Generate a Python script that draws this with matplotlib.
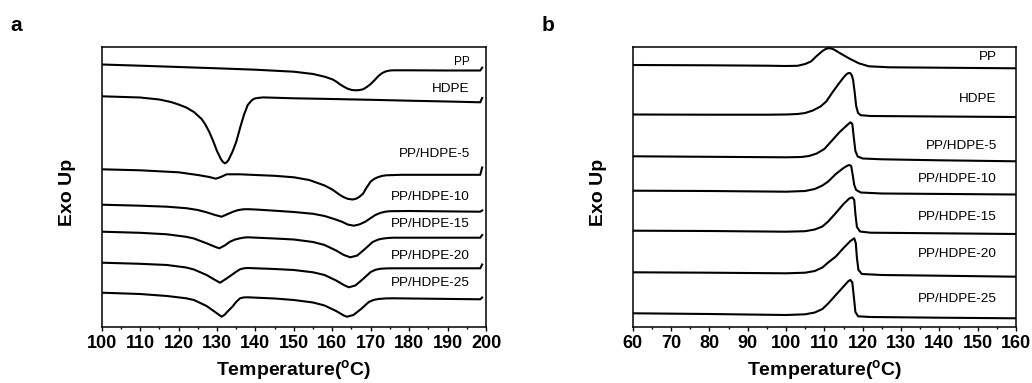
import matplotlib
matplotlib.use("Agg")
import matplotlib.pyplot as plt
from matplotlib.ticker import MultipleLocator

plt.rcParams["font.family"] = ["Liberation Sans", "DejaVu Sans"]
plt.rcParams["mathtext.default"] = "regular"

# ---- (a) heating scans, signal in arbitrary units (stacked) ----
heat_pp_t = [100, 110, 120, 130, 140, 150, 155, 158, 160, 161, 162, 163, 164, 165, 166, 167, 168, 169, 170, 171, 172, 173, 174, 175, 176, 180, 190, 198.5, 199]
heat_pp = [262.2, 261.0, 259.7, 258.4, 257.0, 255.0, 252.7, 250.0, 247.4, 245.2, 242.4, 240.0, 238.0, 236.8, 236.4, 236.6, 237.4, 239.7, 242.7, 246.5, 250.7, 253.7, 255.4, 256.2, 256.4, 256.4, 256.2, 256.2, 259.0]

heat_hdpe_t = [100, 110, 115, 118, 120, 122, 124, 126, 127, 128, 129, 130, 131, 131.5, 132, 132.5, 133, 134, 135, 136, 137, 138, 139, 139.5, 140, 141, 142, 150, 160, 170, 180, 190, 198.5, 199]
heat_hdpe = [230.4, 229.2, 227.2, 224.7, 222.2, 219.2, 214.7, 207.7, 202.0, 194.7, 185.7, 175.7, 167.7, 165.0, 163.4, 164.3, 166.7, 174.7, 184.7, 198.7, 211.7, 221.7, 226.2, 227.6, 228.4, 228.9, 229.3, 228.4, 227.7, 226.9, 226.0, 225.2, 224.4, 228.7]

heat_b5_t = [100, 110, 120, 125, 128, 129.7, 131, 132.5, 136, 140, 145, 150, 154, 158, 160, 162, 163, 164, 165.3, 166.2, 167, 168, 169, 170, 171, 172, 173, 174, 178, 198.5, 199]
heat_b5 = [157.4, 156.4, 154.4, 151.7, 149.7, 148.0, 149.7, 152.4, 152.4, 151.7, 150.9, 149.4, 146.7, 141.2, 137.2, 131.7, 129.5, 127.9, 127.2, 128.0, 129.7, 133.0, 139.5, 145.2, 148.0, 149.7, 150.8, 151.4, 151.9, 151.9, 159.2]

heat_b10_t = [100, 110, 117, 122, 125, 127.3, 129.5, 131.2, 132.5, 134.2, 135.5, 136.8, 138, 140, 145, 150, 155, 158, 160.5, 162.5, 164, 165.6, 167, 168.6, 171.2, 172.5, 173.8, 175, 180, 198.5, 199]
heat_b10 = [122.0, 121.0, 120.0, 118.5, 116.7, 114.4, 111.7, 110.0, 112.2, 115.0, 116.6, 117.4, 117.5, 117.2, 116.0, 114.7, 112.9, 110.7, 107.7, 105.0, 102.2, 101.0, 102.2, 105.0, 111.7, 113.8, 115.0, 115.5, 115.7, 115.0, 116.2]

heat_b15_t = [100, 110, 117, 122, 124, 127.3, 129.5, 130.6, 132, 133.4, 134.7, 136, 137, 138, 145, 150, 155, 158, 161, 163, 164.7, 166.5, 168.5, 170.5, 172, 173, 174.5, 176, 198.5, 199]
heat_b15 = [95.0, 93.9, 92.4, 89.9, 88.2, 83.4, 79.9, 78.4, 81.2, 85.0, 87.2, 88.4, 89.1, 89.4, 88.2, 87.2, 84.7, 81.7, 76.2, 71.7, 69.4, 71.2, 77.7, 84.7, 87.2, 88.0, 88.7, 89.0, 89.0, 91.7]

heat_b20_t = [100, 110, 117, 122, 124, 127.3, 129.5, 130.8, 132.3, 133.8, 135, 136, 137, 138, 145, 150, 155, 158, 161, 163, 164.3, 166, 168, 170, 171.3, 172.5, 174, 176, 198.5, 199]
heat_b20 = [64.0, 62.9, 61.7, 59.2, 57.2, 51.7, 46.7, 44.0, 47.7, 51.7, 55.0, 57.4, 58.4, 58.7, 57.7, 56.7, 54.4, 51.7, 46.2, 41.7, 39.4, 41.2, 47.7, 54.7, 57.0, 57.9, 58.3, 58.4, 58.4, 62.2]

heat_b25_t = [100, 110, 117, 122, 124, 127.3, 129.5, 130.3, 131.2, 132, 132.5, 134, 135, 136, 137, 138, 145, 150, 155, 158, 161, 163, 163.8, 165.5, 167.5, 169.5, 170.8, 172, 174, 176, 198.5, 199]
heat_b25 = [34.0, 32.7, 30.7, 28.4, 26.7, 20.7, 14.7, 12.5, 10.0, 12.0, 14.2, 20.0, 24.8, 28.4, 29.3, 29.4, 28.2, 26.7, 24.2, 21.2, 15.7, 11.2, 10.0, 11.7, 17.7, 24.7, 26.8, 27.7, 28.3, 28.4, 27.4, 29.2]

# ---- (b) cooling scans ----
cool_pp_t = [60, 80, 95, 100, 103, 105, 106.5, 108, 109.5, 110.3, 111, 111.8, 112.5, 114, 116.5, 119, 121.6, 127, 140, 160]
cool_pp = [261.7, 261.4, 261.0, 260.7, 260.9, 262.7, 265.2, 270.7, 275.7, 277.6, 278.5, 278.2, 277.2, 273.7, 268.2, 263.4, 260.4, 259.4, 259.0, 258.4]

cool_hdpe_t = [60, 80, 95, 100, 103, 105, 107, 109, 110.5, 112, 113.5, 115, 115.7, 116.3, 116.8, 117.2, 117.5, 117.9, 118.3, 118.8, 119.5, 122, 140, 160]
cool_hdpe = [212.2, 212.0, 212.0, 212.2, 212.7, 213.7, 216.2, 220.2, 225.2, 233.7, 241.7, 249.2, 252.2, 253.7, 253.5, 251.0, 246.7, 234.7, 220.7, 213.7, 211.5, 210.7, 210.2, 209.7]

cool_b5_t = [60, 80, 100, 104, 106, 108, 110, 112, 114, 115.5, 116.3, 116.8, 117.3, 117.7, 118.1, 118.7, 120, 125, 140, 160]
cool_b5 = [170.4, 169.9, 169.4, 169.7, 170.7, 173.2, 177.7, 186.2, 194.7, 200.0, 202.8, 204.4, 202.7, 188.7, 175.7, 170.2, 168.2, 167.4, 166.4, 165.4]

cool_b10_t = [60, 80, 100, 105, 107.5, 109.5, 111, 113, 115, 116, 116.5, 117, 117.4, 117.8, 118.3, 119.5, 125, 160]
cool_b10 = [136.0, 135.7, 135.0, 135.7, 137.7, 141.2, 145.2, 152.7, 158.7, 161.0, 161.7, 160.7, 151.7, 141.7, 136.7, 134.2, 133.2, 132.2]

cool_b15_t = [60, 80, 100, 105, 107.5, 109.5, 111, 113, 115, 116.5, 117.3, 117.8, 118.1, 118.5, 119.3, 122, 140, 160]
cool_b15 = [96.0, 95.7, 95.0, 95.5, 97.2, 100.2, 105.2, 113.7, 122.7, 128.2, 129.4, 126.7, 112.7, 99.7, 95.2, 94.0, 93.4, 92.7]

cool_b20_t = [60, 80, 100, 105, 107.5, 109.5, 111, 113, 115, 116.8, 117.8, 118.2, 118.5, 118.9, 119.8, 125, 140, 160]
cool_b20 = [54.4, 54.0, 53.4, 54.0, 55.7, 59.2, 64.2, 70.2, 78.7, 85.7, 88.4, 83.7, 68.7, 56.7, 52.7, 51.7, 51.0, 50.0]

cool_b25_t = [60, 80, 100, 105, 107.5, 109.5, 111, 113, 115, 116.3, 116.8, 117.3, 117.7, 118.1, 118.8, 122, 140, 160]
cool_b25 = [13.4, 12.7, 11.7, 12.4, 14.2, 17.7, 23.2, 31.7, 40.2, 45.7, 46.7, 44.2, 29.7, 14.7, 10.4, 9.7, 9.0, 8.4]

names = ["PP", "HDPE", "PP/HDPE-5", "PP/HDPE-10", "PP/HDPE-15", "PP/HDPE-20", "PP/HDPE-25"]

heat_curves = [(heat_pp_t, heat_pp), (heat_hdpe_t, heat_hdpe), (heat_b5_t, heat_b5), (heat_b10_t, heat_b10),
               (heat_b15_t, heat_b15), (heat_b20_t, heat_b20), (heat_b25_t, heat_b25)]
cool_curves = [(cool_pp_t, cool_pp), (cool_hdpe_t, cool_hdpe), (cool_b5_t, cool_b5), (cool_b10_t, cool_b10),
               (cool_b15_t, cool_b15), (cool_b20_t, cool_b20), (cool_b25_t, cool_b25)]

# label anchor heights (same units as the curves)
heat_label_y = [265, 237.7, 172.7, 129.4, 102.7, 70.7, 43.4]
cool_label_y = [270, 227.7, 181, 147.4, 110, 72.4, 27.7]

fig = plt.figure(figsize=(10.32, 3.83), dpi=100)
ax_a = fig.add_axes([101.7 / 1032, 56.3 / 383, 384.3 / 1032, 280 / 383])
ax_b = fig.add_axes([632.7 / 1032, 56.3 / 383, 383.3 / 1032, 279.4 / 383])


def style(ax, lo, hi, ytop):
    ax.set_xlim(lo, hi)
    ax.set_ylim(0, ytop)
    ax.xaxis.set_major_locator(MultipleLocator(10))
    ax.xaxis.set_minor_locator(MultipleLocator(5))
    ax.tick_params(axis="x", which="major", direction="out", length=3, width=1, pad=3, labelsize=13)
    ax.tick_params(axis="x", which="minor", direction="out", length=1.6, width=1)
    ax.tick_params(axis="y", left=False, labelleft=False)
    for lab in ax.get_xticklabels():
        lab.set_fontweight("bold")
    for sp in ax.spines.values():
        sp.set_linewidth(1.1)
    ax.set_xlabel("Temperature($^{o}$C)", fontsize=14, fontweight="bold", labelpad=4)
    ax.set_ylabel("Exo Up", fontsize=14, fontweight="bold")
    ax.yaxis.set_label_coords(-0.066, 0.48)


style(ax_a, 100, 200, 280)
style(ax_b, 60, 160, 279.4)

for (t, y) in heat_curves:
    ax_a.plot(t, y, color="black", lw=1.5)
for (t, y) in cool_curves:
    ax_b.plot(t, y, color="black", lw=1.5)

for i, (name, ly) in enumerate(zip(names, heat_label_y)):
    ax_a.text(195.8, ly, name, ha="right", va="center", fontsize=8.5 if i == 0 else 9.7)
for name, ly in zip(names, cool_label_y):
    ax_b.text(155.0, ly, name, ha="right", va="center", fontsize=9.7)

fig.text(15.7 / 1032, 1 - 25.7 / 383, "a", fontsize=15, fontweight="bold", ha="center", va="center")
fig.text(548 / 1032, 1 - 25.7 / 383, "b", fontsize=15, fontweight="bold", ha="center", va="center")

fig.savefig("out.png", dpi=100)
